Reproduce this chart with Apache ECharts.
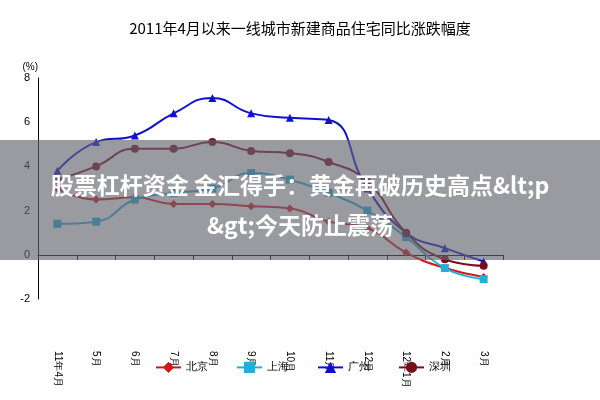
<!DOCTYPE html><html><head><meta charset="utf-8"><script src="https://cdn.jsdelivr.net/npm/echarts@6/dist/echarts.min.js"></script></head><body style="margin:0"><div id="c" style="width:600px;height:400px"></div><script>
const categories=['11年4月','5月','6月','7月','8月','9月','10月','11月','12月','12年1月','2月','3月'];
const beijing=[3.0,2.5,2.6,2.3,2.3,2.2,2.1,1.5,1.2,0.1,-0.6,-1.0];
const shanghai=[1.4,1.5,2.5,2.8,3.0,3.7,3.4,2.8,2.0,0.8,-0.6,-1.1];
const guangzhou=[3.8,5.1,5.4,6.4,7.1,6.4,6.2,6.1,3.0,1.0,0.3,-0.3];
const shenzhen=[3.4,4.0,4.8,4.8,5.1,4.7,4.6,4.2,3.3,1.0,-0.2,-0.5];
const yTicks=[-2,0,2,4,6,8];
const mk=(name,data,color,sym)=>({name,type:'line',data,smooth:true,symbol:sym,symbolSize:8,lineStyle:{color,width:2},itemStyle:{color}});
const ch=echarts.init(document.getElementById('c'));
ch.setOption({backgroundColor:'#fff',animation:false,
title:{text:'2011年4月以来一线城市新建商品住宅同比涨跌幅度',left:'center',top:16,textStyle:{fontSize:15,fontWeight:'normal',color:'#000',fontFamily:'Noto Sans CJK SC'}},
grid:{left:38,right:97,top:78,bottom:101},
legend:{bottom:22,left:150,itemGap:28,textStyle:{fontSize:11,color:'#000'},data:['北京','上海','广州','深圳']},
xAxis:{type:'category',data:categories,boundaryGap:true,axisLine:{onZero:true,lineStyle:{color:'#000'}},axisTick:{show:true},axisLabel:{rotate:-90,fontSize:10,color:'#000',margin:52}},
yAxis:{type:'value',min:-2,max:8,interval:2,name:'(%)',nameGap:6,nameTextStyle:{fontSize:10,color:'#000',align:'right'},splitLine:{show:false},axisLine:{show:true,lineStyle:{color:'#000'}},axisTick:{show:false},axisLabel:{fontSize:11,color:'#000',formatter:v=>yTicks.includes(v)?String(v):''}},
series:[mk('北京',beijing,'#d01818','diamond'),mk('上海',shanghai,'#20b0d8','rect'),mk('广州',guangzhou,'#1010d0','triangle'),mk('深圳',shenzhen,'#7a0d1a','circle')],
graphic:[{type:'rect',left:0,top:140,shape:{width:600,height:120},style:{fill:'rgba(100,100,110,0.65)'},z:100},
{type:'text',x:300,y:165,style:{text:'股票杠杆资金 金汇得手：黄金再破历史高点&lt;p\n&gt;今天防止震荡',fill:'#fff',font:'bold 23px "Noto Sans CJK SC"',textAlign:'center',lineHeight:40},z:101}]
});
</script></body></html>
